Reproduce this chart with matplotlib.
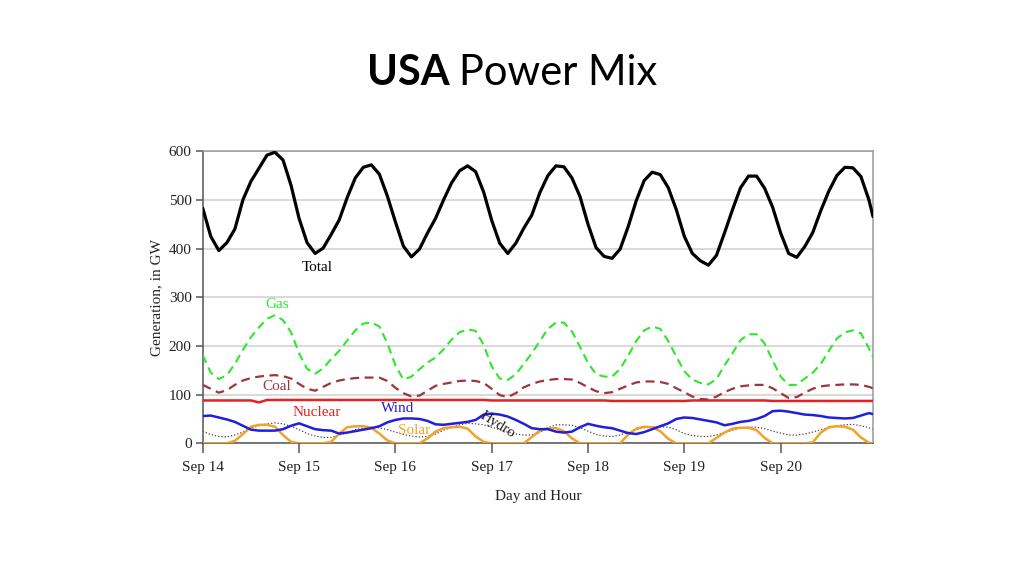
import matplotlib
matplotlib.use("Agg")
import matplotlib.pyplot as plt

# ---------------- data (GW) ----------------
hours = [0, 2, 4, 6, 8, 10, 12, 14, 16, 18,
         20, 22, 24, 26, 28, 30, 32, 34, 36, 38,
         40, 42, 44, 46, 48, 50, 52, 54, 56, 58,
         60, 62, 64, 66, 68, 70, 72, 74, 76, 78,
         80, 82, 84, 86, 88, 90, 92, 94, 96, 98,
         100, 102, 104, 106, 108, 110, 112, 114, 116, 118,
         120, 122, 124, 126, 128, 130, 132, 134, 136, 138,
         140, 142, 144, 146, 148, 150, 152, 154, 156, 158,
         160, 162, 164, 166, 167]

total = [483, 425, 396, 412, 440, 500, 538, 565, 592, 598,
         582, 530, 462, 412, 390, 401, 429, 459, 505, 545,
         567, 572, 553, 508, 455, 405, 383, 399, 432, 462,
         500, 535, 560, 570, 558, 516, 458, 411, 390, 411,
         442, 469, 515, 550, 570, 568, 545, 507, 450, 402,
         384, 380, 399, 445, 498, 540, 557, 552, 525, 480,
         425, 390, 375, 366, 386, 432, 480, 525, 549, 549,
         524, 485, 432, 390, 382, 404, 433, 478, 518, 550,
         567, 566, 548, 500, 466]

gas = [181, 145, 132, 140, 163, 192, 218, 238, 256, 263,
       253, 228, 185, 153, 143, 154, 173, 190, 211, 232,
       246, 248, 240, 206, 160, 131, 137, 152, 166, 176,
       193, 213, 228, 234, 231, 202, 158, 133, 130, 142,
       163, 185, 210, 235, 248, 248, 230, 198, 165, 142,
       137, 137, 153, 180, 210, 232, 240, 235, 210, 178,
       148, 131, 124, 121, 132, 160, 185, 212, 224, 224,
       205, 170, 137, 120, 120, 133, 145, 163, 190, 215,
       228, 232, 226, 195, 177]

coal = [120, 112, 104, 109, 120, 129, 134, 137, 139, 140,
        138, 133, 122, 112, 108, 116, 124, 129, 132, 134,
        135, 135, 135, 128, 114, 103, 96, 98, 108, 118,
        122, 125, 128, 129, 128, 124, 112, 99, 95, 103,
        115, 122, 127, 130, 132, 132, 131, 124, 115, 107,
        103, 105, 112, 119, 125, 127, 127, 126, 122, 113,
        105, 96, 91, 90, 96, 105, 112, 117, 119, 120,
        120, 113, 103, 93, 95, 104, 112, 117, 119, 120,
        121, 121, 120, 116, 113]

nuclear = [88, 88, 88, 88, 88, 88, 88, 84, 89, 89,
           89, 89, 89, 89, 89, 89, 89, 89, 89, 89,
           89, 89, 89, 89, 89, 89, 89, 89, 89, 89,
           89, 89, 89, 89, 89, 89, 88, 88, 88, 88,
           88, 88, 88, 88, 88, 88, 88, 88, 88, 88,
           88, 87, 87, 87, 87, 87, 87, 87, 87, 87,
           87, 88, 88, 88, 88, 88, 88, 88, 88, 88,
           88, 87, 87, 87, 87, 87, 87, 87, 87, 87,
           87, 87, 87, 87, 87]

wind = [56, 57, 53, 49, 44, 36, 28, 26, 26, 26,
        29, 36, 41, 35, 29, 27, 26, 20, 22, 25,
        28, 31, 35, 43, 48, 51, 51, 50, 46, 39,
        38, 40, 42, 44, 48, 59, 61, 59, 55, 48,
        40, 31, 29, 29, 24, 22, 24, 33, 40, 36,
        33, 31, 26, 21, 19, 23, 29, 35, 41, 50,
        53, 52, 49, 46, 43, 37, 40, 44, 46, 50,
        56, 66, 67, 65, 62, 59, 58, 56, 53, 52,
        51, 52, 57, 62, 60]

hydro = [25, 18, 14, 13, 17, 23, 31, 36, 40, 42,
         40, 35, 28, 20, 15, 12, 12, 17, 22, 28,
         31, 33, 32, 28, 23, 18, 15, 13, 14, 19,
         27, 33, 38, 41, 40, 38, 33, 28, 23, 19,
         17, 17, 22, 32, 38, 38, 37, 32, 25, 18,
         15, 14, 17, 22, 28, 32, 34, 34, 33, 28,
         20, 16, 14, 14, 17, 22, 27, 31, 33, 33,
         30, 25, 21, 17, 17, 19, 23, 28, 32, 36,
         38, 39, 36, 32, 29]

solar = [0, 0, 0, 0, 5, 19, 34, 38, 38, 34,
         17, 3, 0, 0, 0, 0, 3, 20, 33, 35,
         35, 32, 20, 6, 0, 0, 0, 0, 10, 24,
         31, 33, 34, 30, 14, 3, 0, 0, 0, 0,
         0, 13, 26, 31, 31, 25, 10, 0, 0, 0,
         0, 0, 0, 18, 30, 34, 33, 25, 9, 0,
         0, 0, 0, 0, 11, 22, 30, 32, 32, 27,
         11, 0, 0, 0, 0, 0, 2, 22, 33, 35,
         34, 28, 12, 1, 0]

tick_hours = [0, 24, 48, 72, 96, 120, 144]
tick_labels = ["Sep 14", "Sep 15", "Sep 16", "Sep 17", "Sep 18", "Sep 19", "Sep 20"]
y_ticks = [0, 100, 200, 300, 400, 500, 600]

# ---------------- styling ----------------
SERIF = ["Liberation Serif", "DejaVu Serif"]
plt.rcParams["font.family"] = SERIF
plt.rcParams["font.size"] = 11

C_TOTAL = "#000000"
C_GAS = "#2ee62a"
C_COAL = "#a0343c"
C_NUC = "#e82020"
C_WIND = "#1f1fdd"
C_SOLAR = "#f2a227"
C_HYDRO = "#444444"

fig = plt.figure(figsize=(10.24, 5.76), dpi=100)
ax = fig.add_axes([0.198, 0.2304, 0.6545, 0.507])

ax.grid(axis="y", color="#d0d0d0", linewidth=1.1, zorder=0)
ax.set_axisbelow(True)

common = dict(solid_joinstyle="round", solid_capstyle="round")
ax.plot(hours, hydro, color=C_HYDRO, linewidth=0.9, linestyle=(0, (1, 1.6)), zorder=2)
ax.plot(hours, solar, color=C_SOLAR, linewidth=1.8, zorder=3, **common)
ax.plot(hours, wind, color=C_WIND, linewidth=1.8, zorder=3, **common)
ax.plot(hours, nuclear, color=C_NUC, linewidth=1.8, zorder=3, **common)
ax.plot(hours, coal, color=C_COAL, linewidth=1.6, linestyle=(0, (4, 2.5)), zorder=3,
        dash_joinstyle="round")
ax.plot(hours, gas, color=C_GAS, linewidth=1.5, linestyle=(0, (4, 2.5)), zorder=3,
        dash_joinstyle="round")
ax.plot(hours, total, color=C_TOTAL, linewidth=2.3, zorder=4, **common)

# direct labels
ax.text(28.5, 362, "Total", color=C_TOTAL, ha="center", va="center")
ax.text(18.5, 286, "Gas", color=C_GAS, ha="center", va="center")
ax.text(18.5, 116, "Coal", color=C_COAL, ha="center", va="center")
ax.text(28.5, 64, "Nuclear", color=C_NUC, ha="center", va="center")
ax.text(48.5, 71, "Wind", color=C_WIND, ha="center", va="center")
ax.text(52.7, 27, "Solar", color=C_SOLAR, ha="center", va="center")
ax.text(73.4, 38, "Hydro", color="#222222", ha="center", va="center",
        rotation=-32, rotation_mode="anchor")

ax.set_xlim(0, 167)
ax.set_ylim(0, 600)
ax.set_xticks(tick_hours)
ax.set_xticklabels(tick_labels)
ax.set_yticks(y_ticks)
ax.tick_params(axis="both", direction="out", color="#555555", labelcolor="#222222",
               labelsize=11)
ax.tick_params(axis="x", length=7, width=1.1, pad=6)
ax.tick_params(axis="y", length=5, width=1.1, pad=3)

for side in ["left", "bottom"]:
    ax.spines[side].set_color("#555555")
    ax.spines[side].set_linewidth(1.1)
for side in ["top", "right"]:
    ax.spines[side].set_color("#999999")
    ax.spines[side].set_linewidth(1.1)

ax.set_xlabel("Day and Hour", color="#222222", labelpad=11)
ax.set_ylabel("Generation, in GW", color="#222222", labelpad=4)

# title: bold "USA" + regular "Power Mix", centred
TITLE_FONT = ["Lato", "Open Sans", "DejaVu Sans"]
renderer = fig.canvas.get_renderer()
t1 = fig.text(0, 0.852, "USA", fontsize=30, fontweight="bold",
              family=TITLE_FONT, ha="left", va="baseline")
t2 = fig.text(0, 0.852, "Power Mix", fontsize=30, family=TITLE_FONT,
              ha="left", va="baseline")
w1 = t1.get_window_extent(renderer).width
w2 = t2.get_window_extent(renderer).width
gap = 10
x0 = 512 - (w1 + gap + w2) / 2
t1.set_x(x0 / 1024)
t2.set_x((x0 + w1 + gap) / 1024)

fig.savefig("out.png", dpi=100)
